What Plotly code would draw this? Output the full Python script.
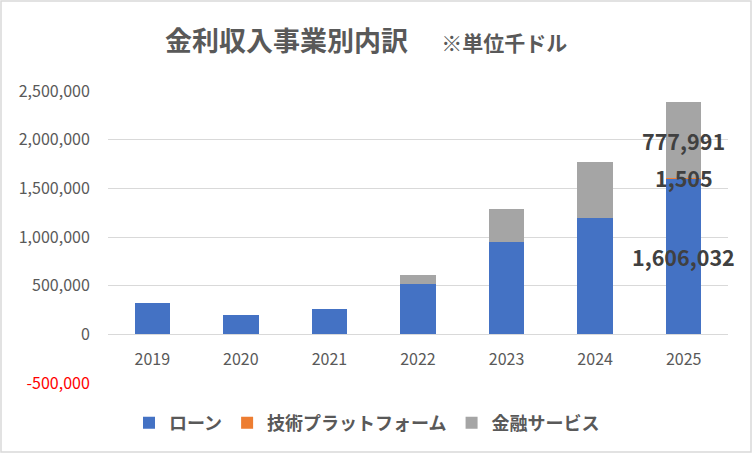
import plotly.graph_objects as go

# data (thousand USD)
years = ["2019", "2020", "2021", "2022", "2023", "2024", "2025"]
loan = [320000, 196000, 258000, 521000, 951000, 1198000, 1606032]
tech_platform = [0, 0, 0, 0, 0, 0, 1505]
fin_services = [0, 0, 0, 90000, 340000, 577000, 777991]

# only the last year carries data labels
label_years = ["2025"]

y_ticks = [-500000, 0, 500000, 1000000, 1500000, 2000000, 2500000]

series_names = ["ローン", "技術プラットフォーム", "金融サービス"]
series_colors = ["#4472C4", "#ED7D31", "#A5A5A5"]
series_values = [loan, tech_platform, fin_services]

font_jp = "Noto Sans CJK JP"


def tick_text(v):
    s = f"{v:,}"
    if v < 0:
        return f"<span style='color:#FF0000'>{s}</span>"
    return s


fig = go.Figure()
for name, vals, col in zip(series_names, series_values, series_colors):
    fig.add_trace(go.Bar(
        x=years, y=vals, name=name,
        marker=dict(color=col, line=dict(width=0)),
        hoverinfo="x+y+name",
    ))

# data labels: centred on each segment, drawn above all bars
# (category axis: annotation x is the category index)
annotations = []
for i, yr in enumerate(years):
    if yr not in label_years:
        continue
    base = 0
    for vals in series_values:
        v = vals[i]
        annotations.append(dict(
            x=i, y=base + v / 2, xref="x", yref="y",
            text=f"{v:,}", showarrow=False,
            font=dict(family=font_jp, size=21.5, color="#404040", weight="bold"),
        ))
        base += v

# plot area is 620 x 292 px, margins l=108 r=25 t=91 b=71
pw, ph = 620, 292
fig.update_layout(
    width=753, height=454,
    barmode="stack",
    bargap=0.6,
    margin=dict(l=108, r=25, t=91, b=71, autoexpand=False),
    paper_bgcolor="white",
    plot_bgcolor="white",
    font=dict(family=font_jp, color="#595959"),
    title=dict(
        text="金利収入事業別内訳　 <span style='font-size:21px'>※単位千ドル</span>",
        font=dict(family=font_jp, size=27, color="#595959", weight="bold"),
        x=165 / 753, xanchor="left", xref="container",
        y=1 - 42 / 454, yanchor="middle", yref="container",
    ),
    legend=dict(
        orientation="h",
        xref="container", yref="container",
        x=367 / 753, xanchor="center",
        y=1 - 423 / 454, yanchor="middle",
        font=dict(family=font_jp, size=18, color="#595959", weight="bold"),
        itemwidth=30,
        traceorder="normal",
    ),
    showlegend=True,
    annotations=annotations,
    xaxis=dict(
        type="category",
        range=[-0.5, len(years) - 0.5],
        anchor="free", position=1 / 6,
        showgrid=False, showline=False, zeroline=False,
        ticks="outside", ticklen=10, tickcolor="rgba(0,0,0,0)",
        tickfont=dict(family=font_jp, size=16, color="#595959"),
    ),
    yaxis=dict(
        range=[-500000, 2500000],
        tickvals=y_ticks,
        ticktext=[tick_text(v) for v in y_ticks],
        showgrid=True, gridcolor="#D9D9D9", gridwidth=1.3,
        zeroline=True, zerolinecolor="#D9D9D9", zerolinewidth=1.3,
        showline=False,
        ticks="outside", ticklen=14, tickcolor="rgba(0,0,0,0)",
        tickfont=dict(family=font_jp, size=16, color="#595959"),
    ),
    shapes=[dict(
        type="rect", xref="paper", yref="paper",
        x0=(1 - 108) / pw, x1=(751 - 108) / pw,
        y0=-(452 - 383) / ph, y1=(383 - 1) / ph,
        line=dict(color="#D9D9D9", width=1.5),
        fillcolor="rgba(0,0,0,0)",
        layer="below",
    )],
)

# the page body has a default 8px margin; drop it so the figure fills the window
fig.write_html("out.html", config={"displayModeBar": False},
               post_script="document.body.style.margin='0';")
